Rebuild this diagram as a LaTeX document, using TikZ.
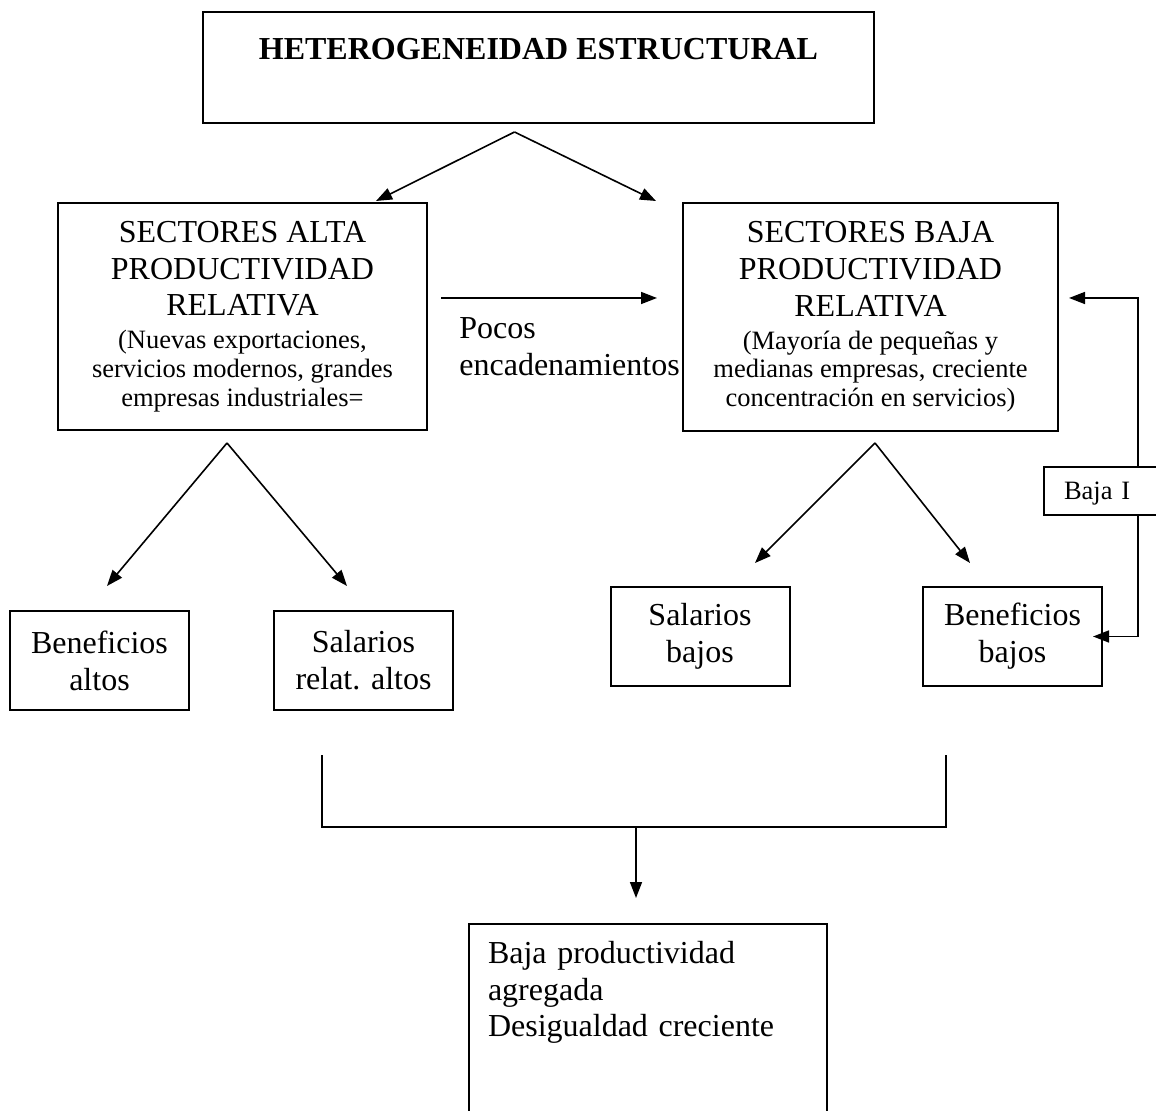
\documentclass[tikz,border=0pt]{standalone}
\usepackage{fontspec}
\setmainfont{Liberation Serif}
\usetikzlibrary{arrows.meta,positioning,calc}
\newcommand{\bigtxt}{\fontsize{16}{18.4}\selectfont}
\newcommand{\smtxt}{\fontsize{13.25}{15.2}\selectfont}
\tikzset{
	ebox/.style={draw=black, line width=1pt, align=center, inner sep=0pt,
		font=\bigtxt},
	esmall/.style={ebox, minimum width=89.5pt, minimum height=49.5pt},
	earr/.style={-{Triangle[length=8pt,width=6pt]}, line width=0.8pt},
	eline/.style={line width=0.8pt},
}

\begin{document}
\begin{tikzpicture}[x=0.5pt, y=-0.5pt]
	\useasboundingbox (0,0) rectangle (1156,1111);
	% boxes
	\node[ebox, minimum width=335.5pt, minimum height=55.5pt] (het) at (538.5,67.5)
		{\textbf{HETEROGENEIDAD ESTRUCTURAL}\\\mbox{}};
	\node[ebox, minimum width=184.5pt, minimum height=113.5pt] (alta) at (242.5,316.5)
		{SECTORES ALTA\\PRODUCTIVIDAD\\RELATIVA\\[-2pt]
		\smtxt (Nuevas exportaciones,\\[-4pt]
		\smtxt servicios modernos, grandes\\[-4pt]
		\smtxt empresas industriales=};
	\node[ebox, minimum width=187.5pt, minimum height=114pt] (baja) at (870.5,317)
		{SECTORES BAJA\\PRODUCTIVIDAD\\RELATIVA\\[-2pt]
		\smtxt (Mayoría de pequeñas y\\[-4pt]
		\smtxt medianas empresas, creciente\\[-4pt]
		\smtxt concentración en servicios)};
	\node[anchor=north west, inner sep=0pt, align=left, font=\bigtxt] (pocos) at (459,317)
		{Pocos\\encadenamientos};
	\node[esmall] (bena) at (99.5,660.5) {Beneficios\\altos};
	\node[esmall] (sala) at (363.5,660.5) {Salarios\\relat. altos};
	\node[esmall] (salb) at (700,636.5) {Salarios\\bajos};
	\node[esmall] (benb) at (1012.5,636.5) {Beneficios\\bajos};
	\node[ebox, anchor=west, align=left, text width=50pt, inner xsep=10pt,
		minimum height=24pt, font=\smtxt, text depth=0pt] (bajaI) at (1043,491) {Baja I};
	\node[ebox, anchor=north west, align=left, text width=160pt, inner xsep=9.5pt,
		inner ysep=8.5pt] (final) at (468,923)
		{Baja productividad\\agregada\\Desigualdad creciente\\\mbox{}\\\mbox{}\\\mbox{}};
	% split points and free ends
	\coordinate (hetsplit) at ([xshift=-12pt,yshift=-4pt]het.south);
	\coordinate (altain) at (376,201);
	\coordinate (bajain) at (656,201);
	\coordinate (altasplit) at (227,443);
	\coordinate (benain) at (107,586);
	\coordinate (salain) at (347,586);
	\coordinate (bajasplit) at (875,443);
	\coordinate (salbin) at (755,563);
	\coordinate (benbin) at (970,563);
	\coordinate (fbx) at (1138,0);
	\coordinate (brkL) at (322,755);
	\coordinate (brkR) at (946,755);
	\coordinate (brkM) at (636,827);
	% connectors
	\draw[earr] (hetsplit) -- (altain);
	\draw[earr] (hetsplit) -- (bajain);
	\draw[earr] ([xshift=6.5pt,yshift=9.25pt]alta.east) -- ([xshift=-12.5pt,yshift=9.5pt]baja.west);
	\draw[earr] (altasplit) -- (benain);
	\draw[earr] (altasplit) -- (salain);
	\draw[earr] (bajasplit) -- (salbin);
	\draw[earr] (bajasplit) -- (benbin);
	\draw[earr] (bajaI.north -| fbx) |- ([xshift=5pt,yshift=9.5pt]baja.east);
	\draw[earr] (bajaI.south -| fbx) |- ([xshift=-5pt]benb.east);
	\draw[eline] (brkL) |- (brkM) -| (brkR);
	\draw[earr, shorten >=12.5pt] (brkM) -- (brkM |- final.north);
\end{tikzpicture}
\end{document}
